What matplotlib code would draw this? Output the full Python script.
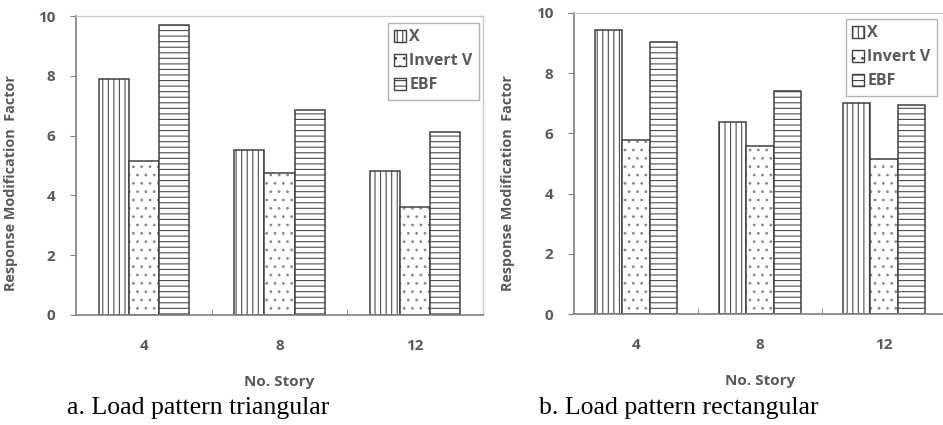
import numpy as np
import matplotlib
matplotlib.use("Agg")
import matplotlib.pyplot as plt
from matplotlib.ticker import FixedLocator
from matplotlib.patches import Patch

stories = ["4", "8", "12"]
systems = ["X", "Invert V", "EBF"]
hatches = ["|||", "..", "---"]
hatch_cols = ["#505050", "#8a8a8a", "#505050"]

# response modification factor, triangular load pattern
tri_x = [7.89, 5.53, 4.80]
tri_iv = [5.14, 4.76, 3.62]
tri_ebf = [9.70, 6.87, 6.13]

# rectangular load pattern
rect_x = [9.43, 6.38, 7.02]
rect_iv = [5.77, 5.59, 5.14]
rect_ebf = [9.05, 7.40, 6.95]

plt.rcParams['font.family'] = ['Open Sans', 'DejaVu Sans']
plt.rcParams['hatch.linewidth'] = 0.8
txt = '#595959'
W, H = 943, 425

fig = plt.figure(figsize=(W/100, H/100), dpi=100)

def panel(box, series, caption, cap_x, ylab_x, leg_anchor):
    l, t, r, b = box
    ax = fig.add_axes((l/W, 1-b/H, (r-l)/W, (b-t)/H))
    x = np.arange(len(stories))
    bw = 0.222
    handles = []
    for i, vals in enumerate(series):
        pos = x + (i-1)*bw
        # hatch layer, then the dark outline on top
        ax.bar(pos, vals, bw, color='white', edgecolor=hatch_cols[i],
               linewidth=0, hatch=hatches[i])
        ax.bar(pos, vals, bw, fill=False, edgecolor='#404040', linewidth=1.1)
        handles.append(Patch(facecolor='white', edgecolor='#404040',
                             hatch=hatches[i], label=systems[i]))
    ax.set_xlim(-0.5, 2.5)
    ax.set_ylim(0, 10)
    ax.set_yticks([0, 2, 4, 6, 8, 10])
    ax.set_xticks(x)
    ax.set_xticklabels(stories)
    ax.xaxis.set_minor_locator(FixedLocator([0.5, 1.5]))
    ax.tick_params(axis='x', which='major', length=0, pad=17)
    ax.tick_params(axis='x', which='minor', direction='in', length=4, color='#808080')
    ax.tick_params(axis='y', direction='out', length=4, color='#808080', pad=11)
    for lab in ax.get_xticklabels() + ax.get_yticklabels():
        lab.set_fontsize(11)
        lab.set_fontweight('bold')
        lab.set_color(txt)
    for s in ['left', 'bottom']:
        ax.spines[s].set_color('#808080')
        ax.spines[s].set_linewidth(1.2)
    for s in ['top', 'right']:
        ax.spines[s].set_color('#c8c8c8')
        ax.spines[s].set_linewidth(1.0)
    ax.set_xlabel('No. Story', fontsize=11, fontweight='bold', color=txt, labelpad=16)
    ax.set_ylabel('Response Modification  Factor', fontsize=10.4, fontweight='bold', color=txt)
    ax.yaxis.set_label_coords((ylab_x - l)/(r-l), (b-183)/(b-t))
    leg = ax.legend(handles=handles, loc='upper right', fontsize=11.5, frameon=True,
                    fancybox=False, edgecolor='#a0a0a0', handlelength=0.75,
                    handleheight=0.75, handletextpad=0.2, labelspacing=0.5,
                    borderpad=0.4, borderaxespad=0, bbox_to_anchor=leg_anchor)
    leg.get_frame().set_linewidth(1.0)
    for tx in leg.get_texts():
        tx.set_color(txt)
        tx.set_fontweight('bold')
    fig.text(cap_x/W, 1-408/H, caption, family='Liberation Serif', fontsize=18.5,
             ha='left', va='center', color='black')
    return ax

panel((76, 16, 483, 315), [tri_x, tri_iv, tri_ebf], 'a. Load pattern triangular',
      67, 18, (0.990, 0.977))
panel((574, 13, 946, 314), [rect_x, rect_iv, rect_ebf], 'b. Load pattern rectangular',
      539, 515, (0.976, 0.980))

fig.savefig('out.png', dpi=100)
